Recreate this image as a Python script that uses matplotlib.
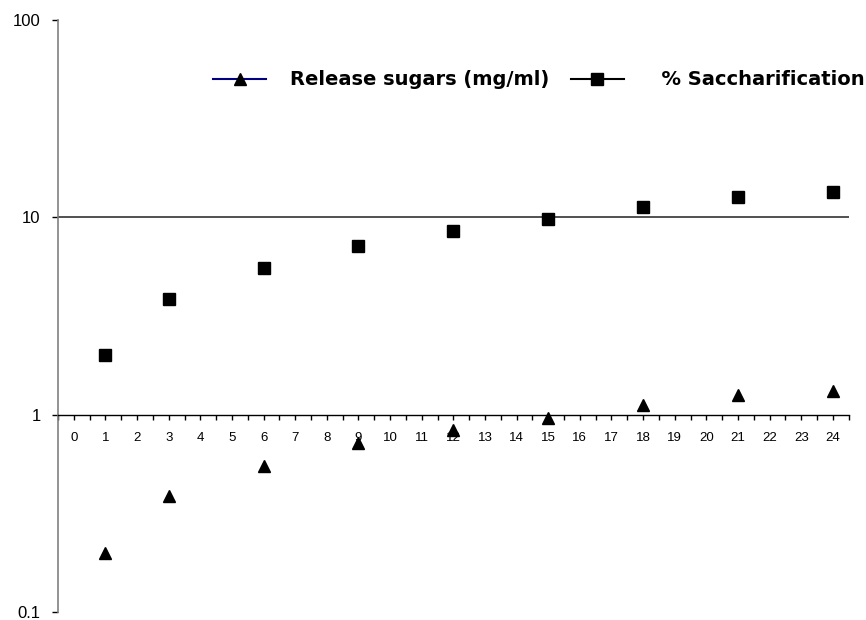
import matplotlib.pyplot as plt
import numpy as np
from matplotlib.lines import Line2D

plt.rcParams['font.family'] = ['Liberation Sans', 'DejaVu Sans']

# hours of hydrolysis
hours = [1, 3, 6, 9, 12, 15, 18, 21, 24]
# released sugars (mg/ml)
sugars = [0.20, 0.385, 0.55, 0.715, 0.84, 0.965, 1.12, 1.26, 1.32]
# % saccharification
sacch = [2.01, 3.87, 5.56, 7.19, 8.57, 9.85, 11.3, 12.7, 13.5]

x_labels = [str(i) for i in range(25)]
y_ticks = [0.1, 1, 10, 100]
y_labels = ['0.1', '1', '10', '100']


def draw_graph():
    fig = plt.figure(figsize=(8.66, 6.2), dpi=100)
    ax = fig.add_axes([0.067, 0.0129, 0.913, 0.9548])

    ax.set_yscale('log')
    ax.set_ylim(0.1, 100)
    ax.set_xlim(-0.5, 24.5)

    # only one horizontal gridline, at 10
    ax.axhline(10, color='#333333', lw=1.2, zorder=1)

    ax.plot(hours, sugars, linestyle='none', marker='^', color='black',
            markersize=9, zorder=3, clip_on=False)
    ax.plot(hours, sacch, linestyle='none', marker='s', color='black',
            markersize=8, zorder=3, clip_on=False)

    for s in ['top', 'right']:
        ax.spines[s].set_visible(False)
    ax.spines['left'].set_color('#808080')
    ax.spines['left'].set_linewidth(1.2)
    ax.spines['bottom'].set_position(('data', 1))
    ax.spines['bottom'].set_color('black')
    ax.spines['bottom'].set_linewidth(1.0)

    ax.set_yticks(y_ticks)
    ax.set_yticklabels(y_labels)
    ax.yaxis.set_minor_locator(plt.NullLocator())
    ax.tick_params(axis='y', which='major', direction='out', length=4.5,
                   width=1, color='black', labelsize=12, pad=8)

    ax.set_xticks(range(25))
    ax.set_xticklabels(x_labels)
    ax.set_xticks(np.arange(-0.5, 25, 1.0), minor=True)
    ax.tick_params(axis='x', which='both', direction='out', length=3.8,
                   width=1, color='black', labelsize=9.5, pad=9)

    handles = [
        Line2D([], [], color='#000080', lw=1.5, marker='^', markersize=9,
               markerfacecolor='black', markeredgecolor='black'),
        Line2D([], [], color='black', lw=1.5, marker='s', markersize=8,
               markerfacecolor='black', markeredgecolor='black'),
    ]
    labels = ['Release sugars (mg/ml)', '  % Saccharification']
    ax.legend(handles, labels, ncol=2, frameon=False,
              prop={'family': 'DejaVu Sans', 'weight': 'bold', 'size': 14},
              handlelength=2.73, handletextpad=1.24, columnspacing=1.1,
              loc='center left', bbox_to_anchor=(0.196, 0.899),
              borderaxespad=0, borderpad=0)

    fig.savefig('out.png', dpi=100)


def main():
    draw_graph()


if __name__ == "__main__":
    main()
